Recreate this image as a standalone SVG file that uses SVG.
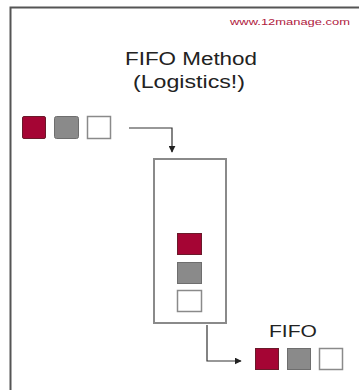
<svg xmlns="http://www.w3.org/2000/svg" width="359" height="390" viewBox="0 0 359 390">
<defs>
<style>
.t{font-family:"Liberation Sans",Arial,sans-serif;fill:#222}
.red{fill:#a50534;stroke:#6a1a2a;stroke-width:1}
.gray{fill:#8a8a8a;stroke:#6e6e6e;stroke-width:1}
.white{fill:#fff;stroke:#8a8a8a;stroke-width:1.5}
.conn{fill:none;stroke:#333;stroke-width:1.2}
</style>
<marker id="ah" viewBox="0 0 10 10" refX="9" refY="5" markerWidth="7" markerHeight="7" orient="auto" markerUnits="userSpaceOnUse">
<path d="M0,0 L10,5 L0,10 z" fill="#222"/>
</marker>
</defs>
<rect width="359" height="390" fill="#fff"/>
<path d="M10.5,390 V7.5 H359" fill="none" stroke="#555" stroke-width="2"/>
<g id="watermark"><text class="t" x="230" y="25" font-size="9.5" fill="#b02040" style="fill:#b02040" textLength="120" lengthAdjust="spacingAndGlyphs">www.12manage.com</text></g>
<g id="title">
<text class="t" x="125" y="65" font-size="18" textLength="132" lengthAdjust="spacingAndGlyphs">FIFO Method</text>
<text class="t" x="133" y="88" font-size="18" textLength="112" lengthAdjust="spacingAndGlyphs">(Logistics!)</text>
</g>
<g id="input">
<rect class="red" x="22.5" y="116.5" width="23" height="22" rx="1.5"/>
<rect class="gray" x="54.5" y="116.5" width="24" height="22" rx="2"/>
<rect class="white" x="87.5" y="116.5" width="23" height="22"/>
</g>
<g id="container">
<rect x="154" y="159" width="72" height="164" fill="#fff" stroke="#8a8a8a" stroke-width="2"/>
<rect class="red" x="177.5" y="233.5" width="24" height="21"/>
<rect class="gray" x="177.5" y="262.5" width="24" height="21"/>
<rect class="white" x="177.5" y="290.5" width="24" height="21"/>
</g>
<g id="output">
<text class="t" x="269" y="337" font-size="17" textLength="48" lengthAdjust="spacingAndGlyphs">FIFO</text>
<rect class="red" x="255.5" y="348.5" width="23" height="21"/>
<rect class="gray" x="287.5" y="348.5" width="23" height="21"/>
<rect class="white" x="319.5" y="348.5" width="23" height="21"/>
</g>
<g id="connectors">
<path class="conn" d="M129,128 H172 V152" marker-end="url(#ah)"/>
<path class="conn" d="M207,325 V361 H241" marker-end="url(#ah)"/>
</g>
</svg>
